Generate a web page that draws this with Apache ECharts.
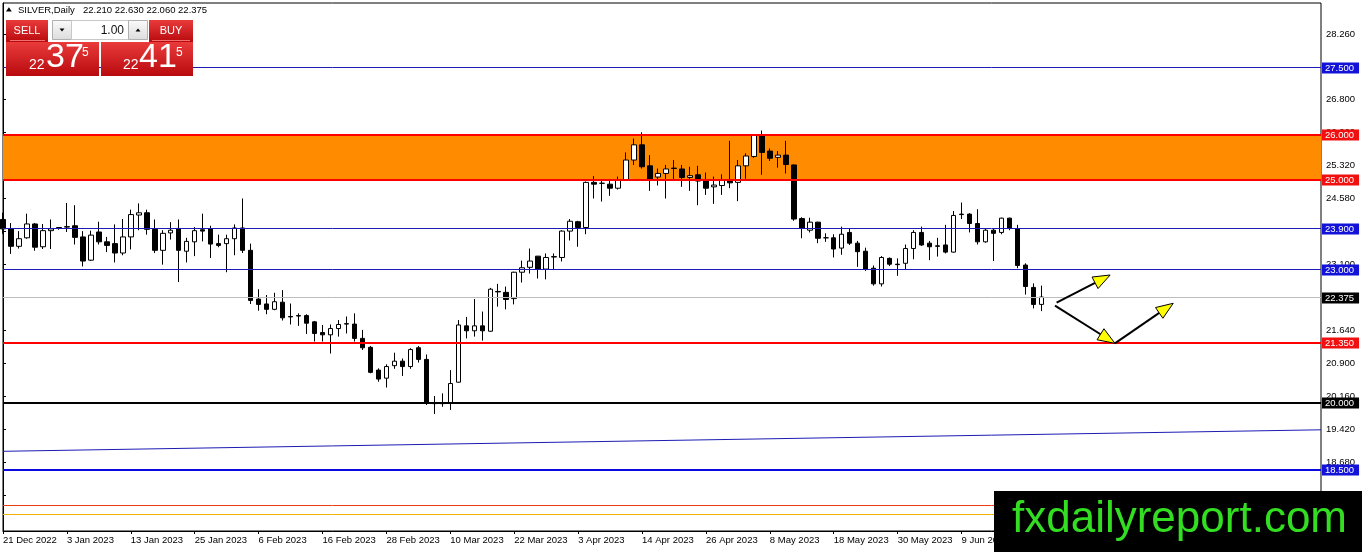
<!DOCTYPE html>
<html><head><meta charset="utf-8">
<script src="https://cdn.jsdelivr.net/npm/echarts@6/dist/echarts.min.js"></script>
<style>html,body{margin:0;padding:0;background:#fff;overflow:hidden}#c{width:1362px;height:552px}</style>
</head><body><div id="c"></div>
<script>
// ---------------- data ----------------
const symbolName = 'SILVER';
const timeframe = 'Daily';
const firstDate = [2022, 11, 21];
const skipDates = ['2022-12-26', '2023-04-07'];
const totalSlots = 166;
const monthAbbr = ['Jan','Feb','Mar','Apr','May','Jun','Jul','Aug','Sep','Oct','Nov','Dec'];

const openP = [24.11,23.90,23.51,23.70,24.01,23.50,23.86,23.93,23.94,23.97,23.72,23.20,23.83,23.61,23.57,23.36,23.72,24.21,24.26,23.89,
23.42,23.81,23.91,23.40,23.61,23.88,23.90,23.57,23.57,23.68,23.92,23.42,22.33,22.22,22.10,22.26,21.94,21.96,21.96,21.82,
21.58,21.53,21.67,21.77,21.77,21.45,21.25,20.74,20.56,20.84,20.94,20.82,21.24,20.98,20.00,20.01,20.01,20.47,21.73,21.62,
21.73,21.61,22.50,22.48,22.34,22.93,23.04,23.29,23.00,23.27,23.26,23.85,24.06,23.93,24.94,24.92,24.90,24.81,24.99,25.44,
25.78,25.31,25.06,25.14,25.26,25.24,25.05,25.11,24.97,24.84,24.87,24.99,24.94,25.31,25.52,25.99,25.64,25.50,25.55,25.33,
24.13,23.87,24.05,23.70,23.70,23.47,23.82,23.58,23.40,23.02,22.67,23.24,23.11,23.13,23.46,23.82,23.58,23.52,23.54,23.38,
24.23,24.23,24.02,23.61,23.87,23.82,24.14,23.90,23.09,22.59,22.21];
const highP = [24.26,24.03,23.85,24.24,24.03,24.01,24.11,23.94,24.48,24.43,23.85,23.86,24.06,23.72,24.00,24.12,24.33,24.47,24.33,24.11,
23.87,24.05,24.11,23.70,23.94,24.24,23.97,23.77,23.77,24.00,24.58,23.57,22.55,22.42,22.47,22.53,22.23,22.01,21.99,21.84,
21.75,21.76,21.86,21.94,22.01,21.64,21.28,20.78,20.87,21.13,21.00,21.23,21.28,21.09,20.16,20.22,20.74,21.86,21.93,22.33,
22.05,22.58,22.67,22.61,22.94,23.19,23.46,23.29,23.35,23.35,23.87,24.12,24.08,24.96,25.08,24.99,25.00,25.07,25.61,25.92,
26.06,25.55,25.25,25.33,25.44,25.33,25.29,25.31,25.16,25.07,25.12,25.87,25.44,25.59,26.02,26.10,25.70,25.64,25.87,25.34,
24.16,24.15,24.06,23.80,23.78,23.95,23.90,23.63,23.48,23.08,23.29,23.26,23.24,23.55,23.87,23.95,23.63,23.70,23.99,24.30,
24.49,24.25,24.34,23.91,23.91,24.15,24.15,23.99,23.13,22.68,22.63];
const lowP = [23.79,23.34,23.46,23.68,23.41,23.45,23.45,23.88,23.83,23.55,23.06,23.18,23.55,23.38,23.15,23.31,23.44,23.87,23.77,23.36,
23.10,23.66,22.71,23.15,23.29,23.62,23.25,23.49,22.93,23.31,23.36,22.22,22.07,21.99,22.08,21.85,21.76,21.73,21.55,21.38,
21.38,21.11,21.49,21.56,21.38,21.19,20.67,20.48,20.35,20.77,20.61,20.77,20.91,19.96,19.76,19.92,19.85,20.46,21.45,21.49,
21.40,21.60,22.16,22.10,22.21,22.70,22.90,22.79,22.77,23.00,23.17,23.64,23.50,23.78,24.58,24.51,24.64,24.78,24.98,25.33,
25.25,24.75,24.87,24.58,24.97,24.84,24.75,24.43,24.66,24.46,24.66,24.81,24.52,25.02,25.49,25.11,25.42,25.27,25.14,24.08,
23.69,23.82,23.58,23.61,23.26,23.32,23.54,23.05,22.96,22.63,22.61,23.07,22.85,23.00,23.22,23.52,23.20,23.28,23.35,23.37,
24.12,23.82,23.55,23.59,23.18,23.78,23.87,23.02,22.43,22.12,22.06];
const closeP = [23.90,23.51,23.68,24.01,23.49,23.86,23.90,23.91,23.95,23.71,23.18,23.76,23.61,23.53,23.36,23.72,24.22,24.26,23.89,23.42,
23.80,23.87,23.42,23.62,23.86,23.85,23.56,23.53,23.68,23.92,23.42,22.30,22.21,22.10,22.27,21.91,21.93,21.95,21.79,21.56,
21.53,21.67,21.76,21.78,21.45,21.24,20.69,20.54,20.82,20.94,20.82,21.20,20.98,20.01,19.99,19.99,20.44,21.75,21.62,21.73,
21.62,22.55,22.49,22.32,22.93,23.03,23.18,23.00,23.26,23.28,23.85,24.07,23.93,24.94,24.90,24.92,24.81,25.00,25.44,25.78,
25.29,24.99,25.14,25.24,25.25,25.05,25.09,24.97,24.81,24.88,24.99,24.93,25.31,25.53,26.00,25.61,25.48,25.55,25.34,24.12,
23.91,24.05,23.69,23.70,23.45,23.78,23.58,23.39,23.00,22.67,23.26,23.11,23.10,23.46,23.82,23.54,23.50,23.51,23.38,24.20,
24.22,24.02,23.61,23.87,23.80,24.14,23.91,23.08,22.61,22.21,22.375];

const bidPrice = 22.375;
const askPrice = 22.415;
const lotSize = '1.00';

const yTickLabels = ['28.260','27.520','26.800','26.060','25.320','24.580','23.840','23.100','22.360','21.640','20.900','20.160','19.420','18.680','17.940'];
const yMin = 17.141, yMax = 28.953;

const zoneLevels = [25.0, 26.0];
const navyLevels = [27.5, 23.9, 23.0];
const redLevels = [26.0, 25.0, 21.35];
const blackLevels = [20.0];
const blueLevels = [18.5];
const bidLevels = [22.375];
const lowerRedLevels = [17.72];
const lowerGoldLevels = [17.5];

const trendX = [0, 165];
const trendY = [18.924, 19.405];

const arrowStartX = [131.9, 131.7, 139.2];
const arrowStartY = [22.248, 22.181, 21.34];
const arrowEndX = [138.6, 139.2, 146.5];
const arrowEndY = [22.868, 21.34, 22.235];

const watermark = 'fxdailyreport.com';

// ---------------- build ----------------
function buildDates() {
  const out = [];
  const d = new Date(Date.UTC(firstDate[0], firstDate[1], firstDate[2]));
  while (out.length < totalSlots) {
    const wd = d.getUTCDay();
    const iso = d.toISOString().slice(0, 10);
    if (wd !== 0 && wd !== 6 && skipDates.indexOf(iso) < 0) {
      out.push(d.getUTCDate() + ' ' + monthAbbr[d.getUTCMonth()] + ' ' + d.getUTCFullYear());
    }
    d.setUTCDate(d.getUTCDate() + 1);
  }
  return out;
}
const categories = buildDates();
const candles = openP.map((o, i) => [o, closeP[i], lowP[i], highP[i]]);
const last = openP.length - 1;
const ohlcText = [openP[last], highP[last], lowP[last], closeP[last]].map(v => v.toFixed(3)).join(' ');
const arrows = arrowStartX.map((x, i) => [x, arrowStartY[i], arrowEndX[i], arrowEndY[i]]);

const FONT = '"Liberation Sans", "DejaVu Sans", sans-serif';

// one crisp horizontal-level series per style group
function levelSeries(values, lineColor, boxColor, width, showLabel, z) {
  return {
    type: 'custom', xAxisIndex: 1, z: z, silent: true, clip: false,
    data: values.map(v => [0, v]),
    encode: { x: 0, y: 1 },
    renderItem: (params, api) => {
      const cs = params.coordSys;
      const v = api.value(1);
      let y = api.coord([0, v])[1];
      y = width % 2 === 1 ? Math.round(y - 0.5) + 0.5 : Math.round(y);
      const children = [{ type: 'line', shape: { x1: cs.x, y1: y, x2: cs.x + cs.width, y2: y },
        style: { stroke: lineColor, lineWidth: width } }];
      if (showLabel) {
        children.push({ type: 'text', x: cs.x + cs.width + 1, y: Math.round(y),
          style: { text: v.toFixed(3), fill: '#fff', backgroundColor: boxColor, padding: [1, 5, 0, 3],
            font: '9.5px ' + FONT, verticalAlign: 'middle', align: 'left' } });
      }
      return { type: 'group', children: children };
    }
  };
}

const redGrad = { type: 'linear', x: 0, y: 0, x2: 0, y2: 1,
  colorStops: [{ offset: 0, color: '#ea3b3b' }, { offset: 1, color: '#b80a0e' }] };
const greyGrad = { type: 'linear', x: 0, y: 0, x2: 0, y2: 1,
  colorStops: [{ offset: 0, color: '#fbfbfb' }, { offset: 1, color: '#dcdcdc' }] };

const bidStr = bidPrice.toFixed(3), askStr = askPrice.toFixed(3);
function priceParts(s) { return [s.slice(0, 2), s.slice(3, 5), s.slice(5)]; }
const bp = priceParts(bidStr), ap = priceParts(askStr);

const chart = echarts.init(document.getElementById('c'), null, { renderer: 'canvas' });
chart.setOption({
  animation: false,
  backgroundColor: '#fff',
  grid: { left: 3, right: 41, top: 3, bottom: 21, show: true, borderColor: '#000', borderWidth: 1, backgroundColor: 'transparent' },
  xAxis: [{
    type: 'category', data: categories, boundaryGap: false,
    axisLine: { show: true, lineStyle: { color: '#000' } },
    axisTick: { show: true, interval: 7, length: 3, lineStyle: { color: '#000' } },
    axisLabel: { interval: 7, align: 'left', margin: 4, color: '#000', fontSize: 9.5, fontFamily: FONT },
    splitLine: { show: false }
  }, {
    type: 'value', min: 0, max: totalSlots - 1, show: false
  }],
  yAxis: {
    type: 'value', position: 'right', min: yMin, max: yMax, scale: true,
    axisLine: { show: true, lineStyle: { color: '#000' } },
    axisTick: { show: true, length: 3, lineStyle: { color: '#000' }, customValues: yTickLabels.map(Number) },
    axisLabel: { color: '#000', fontSize: 9.5, fontFamily: FONT, margin: 5,
      customValues: yTickLabels.map(Number), formatter: v => Number(v).toFixed(3) },
    splitLine: { show: false }
  },
  series: [{
    type: 'line', xAxisIndex: 1, data: [], z: 1, silent: true,
    markArea: { silent: true, itemStyle: { color: '#ff8c00', opacity: 1 },
      data: [[{ yAxis: zoneLevels[0] }, { yAxis: zoneLevels[1] }]] }
  }, {
    type: 'candlestick', xAxisIndex: 0, z: 2, barWidth: 5, silent: true,
    data: candles,
    itemStyle: { color: '#ffffff', color0: '#000000', borderColor: '#000000', borderColor0: '#000000', borderWidth: 1 }
  }, {
    type: 'line', xAxisIndex: 1, z: 3, silent: true, symbol: 'none',
    data: trendX.map((x, i) => [x, trendY[i]]),
    lineStyle: { color: '#1c1cb4', width: 1 }
  },
    levelSeries(lowerRedLevels, '#ee3a10', '#ee3a10', 1, false, 3),
    levelSeries(lowerGoldLevels, '#f2b200', '#f2b200', 1, false, 3),
    levelSeries(bidLevels, '#bdbdbd', '#000000', 1, true, 3),
    levelSeries(navyLevels, '#1c1cb4', '#1212d8', 1, true, 3),
    levelSeries(blueLevels, '#0a0ae0', '#1212d8', 2, true, 3),
    levelSeries(blackLevels, '#000000', '#000000', 2, true, 3),
    levelSeries(redLevels, '#ff0000', '#f01010', 2, true, 3),
  {
    type: 'custom', xAxisIndex: 1, z: 4, silent: true,
    data: arrows,
    encode: { x: [0, 2], y: [1, 3] },
    renderItem: (params, api) => {
      const a = api.coord([api.value(0), api.value(1)]);
      const b = api.coord([api.value(2), api.value(3)]);
      const dx = b[0] - a[0], dy = b[1] - a[1], len = Math.hypot(dx, dy);
      const ux = dx / len, uy = dy / len, L = 17, W = 6.5;
      const bx = b[0] - ux * L, by = b[1] - uy * L;
      return { type: 'group', children: [
        { type: 'line', shape: { x1: a[0], y1: a[1], x2: bx, y2: by }, style: { stroke: '#000', lineWidth: 2 } },
        { type: 'polygon', shape: { points: [[b[0], b[1]], [bx - uy * W, by + ux * W], [bx + uy * W, by - ux * W]] },
          style: { fill: '#ffff00', stroke: '#000', lineWidth: 1 } }
      ] };
    }
  }],
  graphic: [
    { type: 'polygon', z: 100, shape: { points: [[6, 11.5], [8.9, 7.3], [11.8, 11.5]] }, style: { fill: '#000' } },
    { type: 'text', z: 100, x: 18, y: 10, style: { text: symbolName + ',' + timeframe, font: '9.5px ' + FONT, fill: '#000', verticalAlign: 'middle' } },
    { type: 'text', z: 100, x: 83, y: 10, style: { text: ohlcText, font: '9.5px ' + FONT, fill: '#000', verticalAlign: 'middle' } },
    // top buttons
    { type: 'rect', z: 100, shape: { x: 6, y: 20, width: 42, height: 22 }, style: { fill: redGrad } },
    { type: 'line', z: 101, shape: { x1: 10, y1: 40.5, x2: 45, y2: 40.5 }, style: { stroke: '#f07070', lineWidth: 1 } },
    { type: 'text', z: 101, x: 27, y: 30.5, style: { text: 'SELL', font: '11px ' + FONT, fill: '#fff', align: 'center', verticalAlign: 'middle' } },
    { type: 'rect', z: 100, shape: { x: 149, y: 20, width: 44, height: 22 }, style: { fill: redGrad } },
    { type: 'line', z: 101, shape: { x1: 152, y1: 40.5, x2: 190, y2: 40.5 }, style: { stroke: '#f07070', lineWidth: 1 } },
    { type: 'text', z: 101, x: 171, y: 30.5, style: { text: 'BUY', font: '11px ' + FONT, fill: '#fff', align: 'center', verticalAlign: 'middle' } },
    // spinner
    { type: 'rect', z: 100, shape: { x: 52.5, y: 20.5, width: 19, height: 19 }, style: { fill: greyGrad, stroke: '#b0b0b0', lineWidth: 1 } },
    { type: 'polygon', z: 101, shape: { points: [[59.5, 28.5], [64.5, 28.5], [62, 31.5]] }, style: { fill: '#000' } },
    { type: 'rect', z: 100, shape: { x: 71.5, y: 20.5, width: 57, height: 19 }, style: { fill: '#fff', stroke: '#c8c8c8', lineWidth: 1 } },
    { type: 'text', z: 101, x: 124, y: 30.5, style: { text: lotSize, font: '12px ' + FONT, fill: '#111', align: 'right', verticalAlign: 'middle' } },
    { type: 'rect', z: 100, shape: { x: 128.5, y: 20.5, width: 19, height: 19 }, style: { fill: greyGrad, stroke: '#b0b0b0', lineWidth: 1 } },
    { type: 'polygon', z: 101, shape: { points: [[135.5, 31.5], [140.5, 31.5], [138, 28.5]] }, style: { fill: '#000' } },
    // price boxes
    { type: 'rect', z: 100, shape: { x: 6, y: 42, width: 93, height: 34 }, style: { fill: redGrad } },
    { type: 'rect', z: 100, shape: { x: 101, y: 42, width: 92, height: 34 }, style: { fill: redGrad } },
    { type: 'text', z: 101, x: 29, y: 65, style: { text: bp[0], font: '14px ' + FONT, fill: '#fff', verticalAlign: 'middle' } },
    { type: 'text', z: 101, x: 46, y: 58, style: { text: bp[1], font: '34px "Liberation Sans Narrow", ' + FONT, fill: '#fff', verticalAlign: 'middle' } },
    { type: 'text', z: 101, x: 82, y: 53, style: { text: bp[2], font: '12px ' + FONT, fill: '#fff', verticalAlign: 'middle' } },
    { type: 'text', z: 101, x: 123, y: 65, style: { text: ap[0], font: '14px ' + FONT, fill: '#fff', verticalAlign: 'middle' } },
    { type: 'text', z: 101, x: 139, y: 58, style: { text: ap[1], font: '34px "Liberation Sans Narrow", ' + FONT, fill: '#fff', verticalAlign: 'middle' } },
    { type: 'text', z: 101, x: 176, y: 53, style: { text: ap[2], font: '12px ' + FONT, fill: '#fff', verticalAlign: 'middle' } },
    // watermark
    { type: 'rect', z: 200, shape: { x: 994, y: 491, width: 368, height: 61 }, style: { fill: '#000' } },
    { type: 'text', z: 201, x: 1012, y: 520, style: { text: watermark, font: '44px ' + FONT, fill: '#33dd22', verticalAlign: 'middle' } }
  ]
});
</script>
</body></html>
